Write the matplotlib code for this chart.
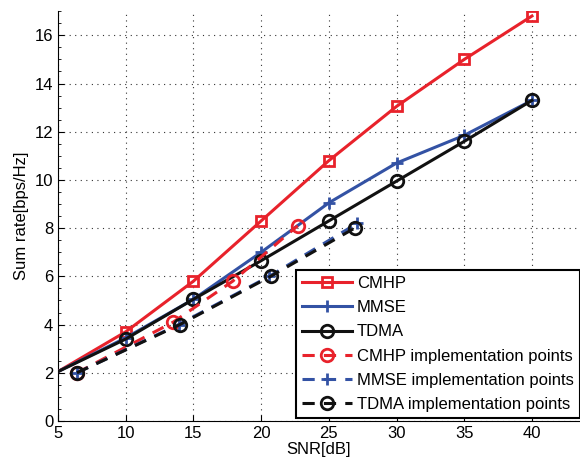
import numpy as np
import matplotlib
matplotlib.use("Agg")
import matplotlib.pyplot as plt
from matplotlib.ticker import MultipleLocator

plt.rcParams['font.family'] = ['Liberation Sans', 'DejaVu Sans']

# courbes principales
snr = [5, 10, 15, 20, 25, 30, 35, 40]
cmhp = [2.05, 3.7, 5.8, 8.3, 10.8, 13.05, 15.0, 16.8]
mmse = [2.05, 3.45, 5.05, 7.0, 9.05, 10.7, 11.85, 13.3]
tdma = [2.05, 3.4, 5.05, 6.65, 8.3, 9.95, 11.6, 13.3]

# points d'implementation
cmhp_impl_x = [6.4, 13.5, 17.9, 22.7]
cmhp_impl_y = [2.0, 4.1, 5.8, 8.1]
mmse_impl_x = [6.4, 13.9, 20.6, 27.1]
mmse_impl_y = [2.0, 4.0, 6.0, 8.2]
tdma_impl_x = [6.4, 14.0, 20.7, 26.9]
tdma_impl_y = [2.0, 4.0, 6.0, 8.0]

red = '#e8222b'
blue = '#3352a4'
black = '#111111'

fig = plt.figure(figsize=(5.8, 4.67), dpi=100)
ax = fig.add_axes([0.1, 0.0985, 0.9, 0.8775])

lw = 2.2
skip = slice(1, None)  # pas de marqueur au bord gauche
ax.plot(snr, cmhp, '-', color=red, lw=lw, marker='s', ms=7, mfc='none', mew=2, markevery=skip,
        label='CMHP', zorder=3)
ax.plot(snr, mmse, '-', color=blue, lw=lw, marker='+', ms=9, mew=2, markevery=skip,
        label='MMSE', zorder=3)
ax.plot(snr, tdma, '-', color=black, lw=lw, marker='o', ms=9, mfc='none', mew=2, markevery=skip,
        label='TDMA', zorder=3)
ax.plot(cmhp_impl_x, cmhp_impl_y, '--', color=red, lw=lw, marker='o', ms=9, mfc='none', mew=2,
        dashes=(4, 3), label='CMHP implementation points', zorder=3)
ax.plot(mmse_impl_x, mmse_impl_y, '--', color=blue, lw=lw, marker='+', ms=9, mew=2,
        dashes=(4, 3), label='MMSE implementation points', zorder=3)
ax.plot(tdma_impl_x, tdma_impl_y, '--', color=black, lw=lw, marker='o', ms=9, mfc='none', mew=2,
        dashes=(4, 3), label='TDMA implementation points', zorder=3)

ax.set_xlim(5, 43.55)
ax.set_ylim(0, 17)
ax.set_xticks([5, 10, 15, 20, 25, 30, 35, 40])
ax.set_yticks([0, 2, 4, 6, 8, 10, 12, 14, 16])
ax.yaxis.set_minor_locator(MultipleLocator(0.5))
ax.tick_params(direction='in', labelsize=12, length=4, width=0.8)
ax.tick_params(which='minor', direction='in', length=2, width=0.6)
ax.grid(True, linestyle=(0, (1, 4)), color='#333333', lw=0.8)
ax.spines['top'].set_visible(False)
ax.spines['right'].set_visible(False)

ax.set_xlabel('SNR[dB]', fontsize=12, labelpad=1)
ax.set_ylabel('Sum rate[bps/Hz]', fontsize=12, labelpad=4)

leg = ax.legend(loc='lower right', bbox_to_anchor=(1.006, 0.0), fontsize=12, frameon=True,
                fancybox=False, edgecolor='black', framealpha=1, handlelength=3.0,
                borderaxespad=0.2, labelspacing=0.55, handletextpad=0.3, borderpad=0.35)
leg.get_frame().set_linewidth(1.5)

fig.savefig('out.png', dpi=100)
